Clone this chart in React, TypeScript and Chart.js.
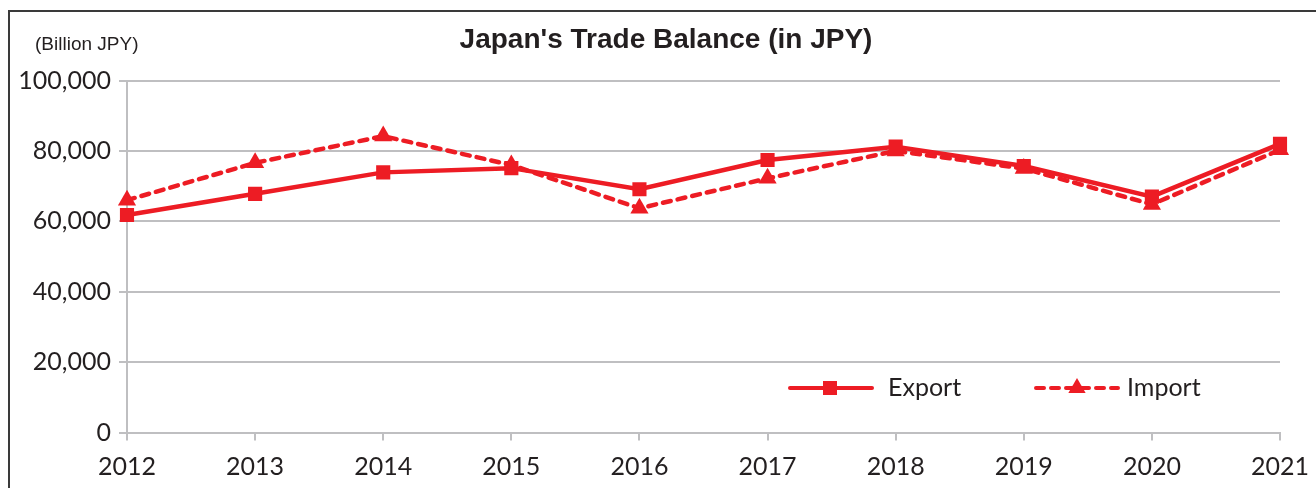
import React, { useEffect, useRef } from "react";
import { Chart, registerables } from "chart.js";

Chart.register(...registerables);

const years = ["2012", "2013", "2014", "2015", "2016", "2017", "2018", "2019", "2020", "2021"];
const exportValues = [61800, 67800, 73900, 75100, 69100, 77400, 81200, 75700, 67000, 82000];
const importValues = [66000, 76600, 84200, 76000, 63700, 72200, 80000, 75000, 64800, 80300];
const yTicks = [0, 20000, 40000, 60000, 80000, 100000];

const titleText = "Japan's Trade Balance (in JPY)";
const unitText = "(Billion JPY)";
const seriesNames = ["Export", "Import"];

const RED = "#ED1C24";
const TEXT = "#231F20";
const GRID = "#BFBFC1";
const TICK_FONT = "Lato, 'Open Sans', sans-serif";

const decorPlugin = {
  id: "decor",
  beforeDraw(chart: any) {
    const ctx = chart.ctx;
    ctx.save();
    ctx.fillStyle = "#ffffff";
    ctx.fillRect(0, 0, chart.width, chart.height);
    ctx.restore();
  },
  afterDraw(chart: any) {
    const ctx = chart.ctx;
    ctx.save();
    // frame (extends past right and bottom edges)
    ctx.strokeStyle = "#3a3a3a";
    ctx.lineWidth = 2;
    ctx.strokeRect(9, 11, 1400, 600);
    // title
    ctx.fillStyle = TEXT;
    ctx.textBaseline = "alphabetic";
    ctx.textAlign = "center";
    ctx.font = "bold 28px 'Liberation Sans', Arial, sans-serif";
    ctx.fillText(titleText, 666, 48);
    ctx.textAlign = "left";
    ctx.font = "19px 'Liberation Sans', Arial, sans-serif";
    ctx.fillText(unitText, 35, 50);

    // legend
    const ly = 388;
    ctx.strokeStyle = RED;
    ctx.fillStyle = RED;
    ctx.lineWidth = 4;
    ctx.lineCap = "round";
    ctx.beginPath();
    ctx.moveTo(790, ly);
    ctx.lineTo(872, ly);
    ctx.stroke();
    ctx.fillRect(830 - 7, ly - 7, 14, 14);

    ctx.setLineDash([8, 7]);
    ctx.beginPath();
    ctx.moveTo(1036, ly);
    ctx.lineTo(1118, ly);
    ctx.stroke();
    ctx.setLineDash([]);
    const r = 10;
    ctx.beginPath();
    ctx.moveTo(1077, ly - r);
    ctx.lineTo(1077 + r * 0.866, ly + r * 0.5);
    ctx.lineTo(1077 - r * 0.866, ly + r * 0.5);
    ctx.closePath();
    ctx.fill();

    ctx.fillStyle = TEXT;
    ctx.font = `25px ${TICK_FONT}`;
    ctx.textBaseline = "middle";
    ctx.fillText(seriesNames[0], 888, ly);
    ctx.fillText(seriesNames[1], 1127, ly);
    ctx.restore();
  },
};

export default function App() {
  const ref = useRef<HTMLCanvasElement | null>(null);
  useEffect(() => {
    if (!ref.current) return;
    const chart = new Chart(ref.current, {
      type: "line",
      data: {
        labels: years,
        datasets: [
          {
            label: seriesNames[0],
            data: exportValues,
            borderColor: RED,
            backgroundColor: RED,
            borderWidth: 4.5,
            pointStyle: "rect",
            pointRadius: 10,
            pointBorderWidth: 0,
            pointBackgroundColor: RED,
            tension: 0,
          },
          {
            label: seriesNames[1],
            data: importValues,
            borderColor: RED,
            backgroundColor: RED,
            borderWidth: 4.5,
            borderDash: [8, 7],
            borderCapStyle: "round",
            pointStyle: "triangle",
            pointRadius: 10.5,
            pointBorderWidth: 0,
            pointBackgroundColor: RED,
            tension: 0,
          },
        ],
      },
      options: {
        animation: false,
        responsive: false,
        maintainAspectRatio: false,
        layout: { padding: { top: 80.5, right: 36, left: 0, bottom: 0 } },
        plugins: {
          legend: { display: false },
          title: { display: false },
          tooltip: { enabled: false },
        },
        scales: {
          x: {
            type: "category",
            offset: false,
            grid: {
              display: true,
              drawOnChartArea: false,
              drawTicks: true,
              tickLength: 8,
              color: GRID,
              lineWidth: 2,
            },
            border: { display: true, color: GRID, width: 2 },
            ticks: {
              color: TEXT,
              font: { family: TICK_FONT, size: 25 },
              padding: 11,
              maxRotation: 0,
              autoSkip: false,
            },
            afterFit: (s: any) => {
              s.height = 55.5;
              s.paddingLeft = 0;
              s.paddingRight = 0;
            },
          },
          y: {
            min: 0,
            max: 100000,
            afterBuildTicks: (s: any) => {
              s.ticks = yTicks.map((v) => ({ value: v }));
            },
            grid: {
              color: GRID,
              lineWidth: 2,
              drawTicks: true,
              tickLength: 8,
            },
            border: { display: true, color: GRID, width: 2 },
            ticks: {
              color: TEXT,
              font: { family: TICK_FONT, size: 25 },
              padding: 8,
              callback: (v: any) => Number(v).toLocaleString("en-US"),
            },
            afterFit: (s: any) => {
              s.width = 127;
            },
          },
        },
      },
      plugins: [decorPlugin],
    });
    return () => chart.destroy();
  }, []);
  return (
    <div style={{ position: "fixed", left: 0, top: 0, width: 1316, height: 488 }}>
      <canvas ref={ref} width={1316} height={488} style={{ width: 1316, height: 488, display: "block" }} />
    </div>
  );
}
